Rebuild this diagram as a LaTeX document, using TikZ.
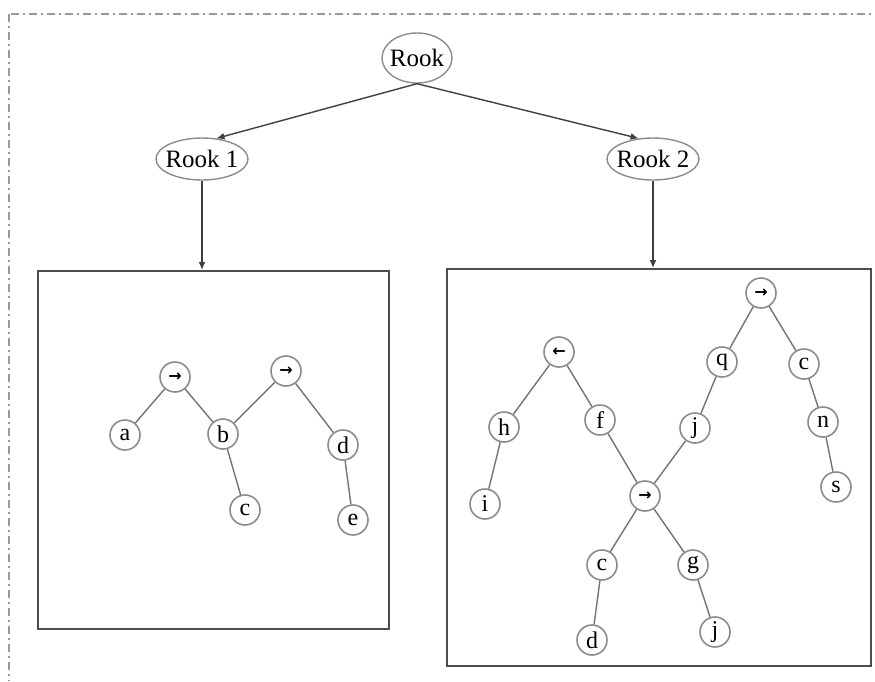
\documentclass[tikz,border=0pt]{standalone}
\usepackage{fontspec}
\setmainfont{Liberation Serif}
\newfontfamily\symfont{DejaVu Sans}
\usetikzlibrary{shapes.geometric,arrows.meta}
\begin{document}
\begin{tikzpicture}[x=1pt,y=-1pt,
  conn/.style={draw=black!75, line width=1.4pt, -{Latex[length=8pt,width=7pt]}},
  rook/.style={ellipse, draw=black!45, line width=1.4pt, inner sep=0pt, font=\fontsize{25}{27}\selectfont},
  tn/.style={circle, draw=black!45, line width=1.6pt, minimum size=30pt, inner sep=0pt, font=\fontsize{24}{26}\selectfont},
  an/.style={tn, font=\symfont\bfseries\fontsize{16}{18}\selectfont},
  edge/.style={draw=black!55, line width=1.4pt},
  frame/.style={rectangle, draw=black!70, line width=1.6pt, inner sep=0pt, anchor=north west},
  border/.style={draw=black!40, line width=1.2pt, dash pattern=on 8pt off 4pt on 2pt off 4pt}]
\useasboundingbox (0,0) rectangle (875,681);
\draw[border] (11,14) -- (875,14);
\draw[border] (9,14) -- (9,681);

% top level
\node[rook, minimum width=70pt, minimum height=50pt] (rook) at (417,58) {\makebox[0pt]{Rook}};
\node[rook, minimum width=92pt, minimum height=42pt] (r1) at (202,159) {\makebox[0pt]{Rook 1}};
\node[rook, minimum width=92pt, minimum height=42pt] (r2) at (653,159) {\makebox[0pt]{Rook 2}};

% boxes
\node[frame, minimum width=351pt, minimum height=358pt] (box1) at (37,270) {};
\node[frame, minimum width=424pt, minimum height=397pt] (box2) at (446,268) {};

\draw[conn] (rook.south) -- (r1.55);
\draw[conn] (rook.south) -- (r2.125);
\draw[conn] (r1.south) -- (r1.south |- box1.north);
\draw[conn] (r2.south) -- (r2.south |- box2.north);

% left tree
\node[an] (L1) at (175,377) {→};
\node[an] (L2) at (286,371) {→};
\node[tn] (a) at (125,435) {a};
\node[tn] (b) at (223,434) {b};
\node[tn] (c) at (245,510) {c};
\node[tn] (d) at (343,445) {d};
\node[tn] (e) at (353,520) {e};
\draw[edge] (L1) -- (a);
\draw[edge] (L1) -- (b);
\draw[edge] (L2) -- (b);
\draw[edge] (L2) -- (d);
\draw[edge] (b) -- (c);
\draw[edge] (d) -- (e);

% right tree
\node[an] (R1) at (761,293) {→};
\node[an] (RL) at (559,352) {←};
\node[an] (RM) at (645,496) {→};
\node[tn] (q) at (722,362) {q};
\node[tn] (c1) at (804,364) {c};
\node[tn] (h) at (504,427) {h};
\node[tn] (f) at (600,420) {f};
\node[tn] (j1) at (695,428) {j};
\node[tn] (n) at (823,422) {n};
\node[tn] (i) at (485,504) {i};
\node[tn] (s) at (836,487) {s};
\node[tn] (c2) at (602,565) {c};
\node[tn] (g) at (693,565) {g};
\node[tn] (d2) at (592,640) {d};
\node[tn] (j2) at (715,632) {j};
\draw[edge] (RL) -- (h);
\draw[edge] (RL) -- (f);
\draw[edge] (h) -- (i);
\draw[edge] (f) -- (RM);
\draw[edge] (RM) -- (j1);
\draw[edge] (j1) -- (q);
\draw[edge] (q) -- (R1);
\draw[edge] (R1) -- (c1);
\draw[edge] (c1) -- (n);
\draw[edge] (n) -- (s);
\draw[edge] (RM) -- (c2);
\draw[edge] (RM) -- (g);
\draw[edge] (c2) -- (d2);
\draw[edge] (g) -- (j2);
\end{tikzpicture}
\end{document}
